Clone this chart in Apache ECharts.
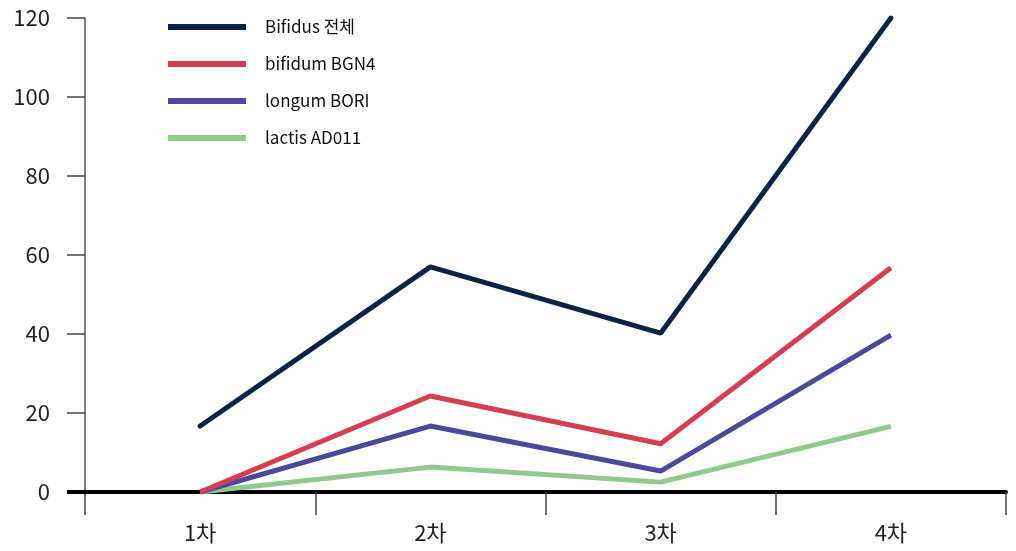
<!DOCTYPE html>
<html><head><meta charset="utf-8">
<script src="https://cdn.jsdelivr.net/npm/echarts@6/dist/echarts.min.js"></script>
<style>html,body{margin:0;padding:0;background:#fff}#c{width:1016px;height:551px}</style>
</head><body><div id="c"></div>
<script>
const categories = ['1차', '2차', '3차', '4차'];
const seriesNames = ['Bifidus 전체', 'bifidum BGN4', 'longum BORI', 'lactis AD011'];
const bifidusTotal = [16.7, 57, 40.2, 120];
const bifidumBGN4 = [0, 24.3, 12.2, 56.8];
const longumBORI = [0, 16.7, 5.3, 39.7];
const lactisAD011 = [0, 6.3, 2.5, 16.6];
const yTicks = [0, 20, 40, 60, 80, 100, 120];

const colors = ['#0a2447', '#d53d50', '#4b4a9a', '#8fca8a'];
const font = '"Noto Sans CJK KR", "Noto Sans", sans-serif';
const chart = echarts.init(document.getElementById('c'));
const dataSets = [bifidusTotal, bifidumBGN4, longumBORI, lactisAD011];
chart.setOption({
  animation: false,
  grid: { left: 85, right: 10, top: 18, bottom: 59 },
  legend: {
    orient: 'vertical', left: 168, top: 17, padding: 0,
    itemWidth: 78, itemHeight: 6, itemGap: 17,
    icon: 'rect',
    textStyle: { fontFamily: font, fontSize: 17, color: '#111', lineHeight: 20, padding: [0, 0, 0, 14] },
    data: seriesNames
  },
  xAxis: {
    type: 'category', data: categories, boundaryGap: true,
    axisLine: { lineStyle: { color: '#000', width: 4 } },
    axisTick: { show: true, length: 23, lineStyle: { color: '#444', width: 1.5 } },
    axisLabel: { fontFamily: font, fontSize: 22, color: '#222', margin: 30 }
  },
  yAxis: {
    type: 'value', min: 0, max: 120, interval: 20,
    axisLine: { show: true, lineStyle: { color: '#555', width: 1.5 } },
    axisTick: { show: true, inside: false, length: 18, lineStyle: { color: '#444', width: 1.5 } },
    axisLabel: { fontFamily: font, fontSize: 22, color: '#222', margin: 35,
      formatter: v => yTicks.includes(v) ? String(v) : '' },
    splitLine: { show: false }
  },
  series: seriesNames.map((n, i) => ({
    name: n, type: 'line', data: dataSets[i], symbol: 'none',
    color: colors[i],
    lineStyle: { width: 5, color: colors[i], cap: i === 0 ? 'round' : 'butt' },
    z: 10 - i
  })).reverse()
});
// Extend zero baseline across the y-axis tick
const p0 = chart.convertToPixel({ gridIndex: 0 }, [0, 0]);
const gx = chart.getModel().getComponent('grid').coordinateSystem.getRect();
chart.setOption({
  graphic: [{
    type: 'line', z: 100,
    shape: { x1: gx.x - 18, y1: p0[1], x2: gx.x + 2, y2: p0[1] },
    style: { stroke: '#000', lineWidth: 4 }
  }]
});
</script></body></html>
